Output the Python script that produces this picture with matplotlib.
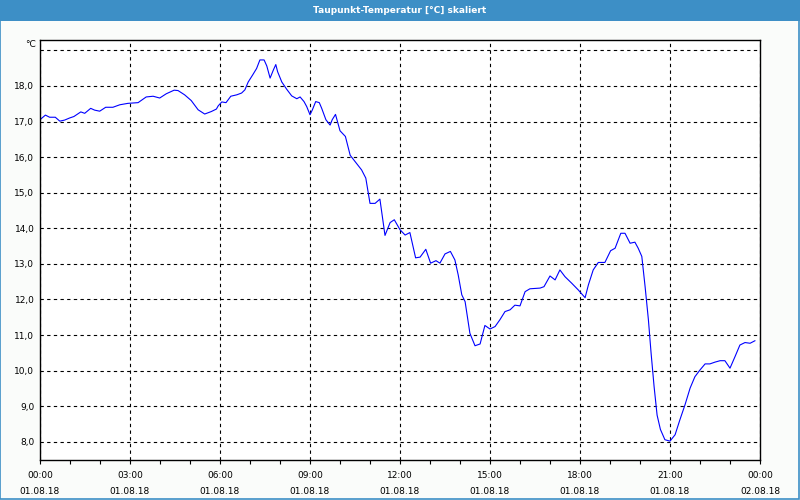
import matplotlib
matplotlib.use("Agg")
import matplotlib.pyplot as plt
from matplotlib.patches import Rectangle

# --- data (hours since 01.08.18 00:00, dew point in °C) ---
hours = [0.0, 0.18, 0.32, 0.51, 0.66, 0.82, 0.99, 1.13, 1.36, 1.49,
         1.69, 1.82, 1.99, 2.19, 2.43, 2.66, 2.93, 3.27, 3.54, 3.77,
         3.99, 4.21, 4.47, 4.60, 4.82, 5.04, 5.27, 5.49, 5.71, 5.88,
         5.94, 6.06, 6.20, 6.36, 6.56, 6.72, 6.83, 6.94, 7.09, 7.22,
         7.33, 7.47, 7.56, 7.67, 7.78, 7.86, 7.92, 8.06, 8.22, 8.39,
         8.56, 8.67, 8.80, 8.89, 9.00, 9.08, 9.19, 9.31, 9.39, 9.53,
         9.67, 9.74, 9.85, 10.00, 10.18, 10.34, 10.56, 10.72, 10.86, 11.00,
         11.17, 11.33, 11.50, 11.67, 11.81, 12.00, 12.17, 12.33, 12.52, 12.67,
         12.86, 13.02, 13.20, 13.33, 13.50, 13.68, 13.83, 13.94, 14.06, 14.17,
         14.33, 14.50, 14.67, 14.83, 15.00, 15.17, 15.33, 15.50, 15.67, 15.83,
         16.00, 16.17, 16.33, 16.67, 16.80, 17.00, 17.17, 17.33, 17.50, 17.72,
         17.94, 18.17, 18.28, 18.44, 18.61, 18.83, 19.02, 19.17, 19.36, 19.50,
         19.67, 19.83, 19.94, 20.06, 20.17, 20.28, 20.37, 20.47, 20.57, 20.68,
         20.83, 21.00, 21.17, 21.33, 21.50, 21.67, 21.83, 22.00, 22.17, 22.33,
         22.50, 22.67, 22.83, 23.00, 23.17, 23.33, 23.50, 23.67, 23.83]
dewpoint = [17.05, 17.18, 17.12, 17.12, 17.01, 17.04, 17.10, 17.14, 17.27, 17.23,
            17.37, 17.32, 17.29, 17.40, 17.40, 17.47, 17.51, 17.53, 17.69, 17.71,
            17.66, 17.78, 17.88, 17.87, 17.75, 17.59, 17.33, 17.21, 17.28, 17.35,
            17.44, 17.55, 17.53, 17.71, 17.75, 17.80, 17.89, 18.11, 18.31, 18.49,
            18.73, 18.73, 18.56, 18.22, 18.45, 18.60, 18.40, 18.11, 17.91, 17.72,
            17.64, 17.69, 17.56, 17.42, 17.19, 17.33, 17.56, 17.53, 17.37, 17.05,
            16.90, 17.05, 17.20, 16.74, 16.58, 16.05, 15.81, 15.64, 15.41, 14.70,
            14.70, 14.82, 13.80, 14.16, 14.24, 13.96, 13.81, 13.88, 13.17, 13.19,
            13.41, 13.02, 13.09, 13.02, 13.28, 13.35, 13.11, 12.69, 12.13, 11.94,
            11.05, 10.70, 10.75, 11.27, 11.17, 11.24, 11.43, 11.66, 11.71, 11.84,
            11.82, 12.22, 12.30, 12.32, 12.36, 12.66, 12.55, 12.83, 12.64, 12.46,
            12.27, 12.05, 12.41, 12.83, 13.04, 13.04, 13.37, 13.44, 13.86, 13.86,
            13.58, 13.61, 13.44, 13.21, 12.36, 11.43, 10.49, 9.55, 8.75, 8.35,
            8.06, 8.02, 8.20, 8.62, 9.04, 9.51, 9.83, 10.02, 10.19, 10.19,
            10.24, 10.28, 10.28, 10.07, 10.40, 10.72, 10.79, 10.77, 10.84]

x_ticks = [0, 3, 6, 9, 12, 15, 18, 21, 24]
x_labels = ["00:00\n01.08.18", "03:00\n01.08.18", "06:00\n01.08.18",
            "09:00\n01.08.18", "12:00\n01.08.18", "15:00\n01.08.18",
            "18:00\n01.08.18", "21:00\n01.08.18", "00:00\n02.08.18"]
y_ticks = [8, 9, 10, 11, 12, 13, 14, 15, 16, 17, 18, 19]
y_labels = ["8,0", "9,0", "10,0", "11,0", "12,0", "13,0", "14,0",
            "15,0", "16,0", "17,0", "18,0", ""]

title = "Taupunkt-Temperatur [°C] skaliert"
blue = "#3d8fc6"

fig = plt.figure(figsize=(8, 5), dpi=100, facecolor="#fafcfa")

# title bar and thin window border
fig.patches.append(Rectangle((0, 0.958), 1, 0.042, transform=fig.transFigure,
                             facecolor=blue, edgecolor="none"))
fig.patches.append(Rectangle((0.0006, 0.002), 0.9976, 0.996, transform=fig.transFigure,
                             facecolor="none", edgecolor=blue, linewidth=1.2))
fig.text(0.5, 0.979, title, color="white", fontsize=6.5, fontweight="bold",
         ha="center", va="center")

ax = fig.add_axes([0.05, 0.08, 0.90, 0.84])
ax.set_facecolor("white")
ax.plot(hours, dewpoint, color="#0000ff", linewidth=0.8)

ax.set_xlim(0, 24)
ax.set_ylim(7.49, 19.29)
ax.set_xticks(x_ticks)
ax.set_xticklabels(x_labels, fontsize=6.5, linespacing=1.95)
ax.set_xticks(range(0, 25), minor=True)
ax.set_yticks(y_ticks)
ax.set_yticklabels(y_labels, fontsize=6.5)

ax.grid(True, color="black", linestyle=(0, (3, 3)), linewidth=0.8)
ax.tick_params(axis="x", which="both", direction="out", length=3, width=0.8, pad=5)
ax.tick_params(axis="y", length=0, pad=4)
for s in ax.spines.values():
    s.set_linewidth(1.0)
    s.set_color("black")

ax.text(-0.006, 0.99, "°C", transform=ax.transAxes, fontsize=6.5,
        ha="right", va="center")

fig.savefig("out.png", dpi=100, facecolor=fig.get_facecolor())
